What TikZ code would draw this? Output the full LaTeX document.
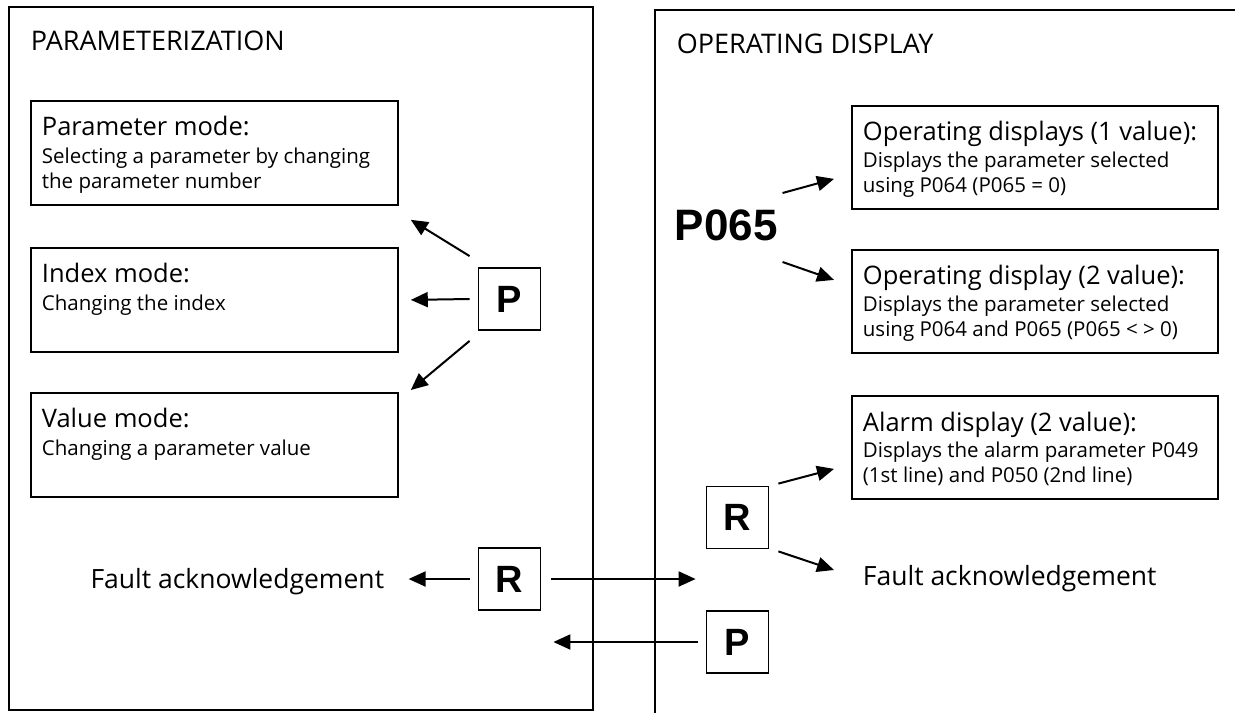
\documentclass[tikz,border=0pt]{standalone}
\usepackage{fontspec}
\setmainfont{Open Sans}
\newfontfamily\keyfont{Liberation Sans}
\usetikzlibrary{arrows.meta,calc}
\begin{document}
\begin{tikzpicture}[x=1pt,y=-1pt,line width=1.8pt,
  arr/.style={-{Triangle[length=17pt,width=15pt]},line width=2pt},
  mbox/.style={draw,rectangle,minimum width=367pt,minimum height=104pt,anchor=north west,inner sep=0pt},
  keybox/.style={draw,rectangle,minimum width=62pt,minimum height=62pt,inner sep=0pt,font=\keyfont\bfseries\fontsize{38}{40}\selectfont},
  ttl/.style={anchor=base west,inner sep=0pt,font=\fontsize{25.5}{30}\selectfont},
  subt/.style={anchor=base west,inner sep=0pt,font=\fontsize{20.5}{24}\selectfont},
  head/.style={anchor=base west,inner sep=0pt,font=\fontsize{27}{32}\selectfont},
  plain/.style={inner sep=0pt,font=\fontsize{26.5}{31}\selectfont},
]
\useasboundingbox (0,0) rectangle (1235,713);
% panels
\draw (9,7) rectangle (593,710);
\draw (1235,10) -- (655,10) -- (655,713);
\node[head] (h1) at (30,50) {PARAMETERIZATION};
\node[head] (h2) at (676,53) {OPERATING DISPLAY};
% left boxes
\node[mbox] (pm) at (30,100) {};
\node[ttl] (pmt) at ($(pm.north west)+(11,35)$) {Parameter mode:};
\node[subt] (pms1) at ($(pm.north west)+(11,63)$) {Selecting a parameter by changing};
\node[subt] (pms2) at ($(pm.north west)+(11,88)$) {the parameter number};
\node[mbox] (im) at (30,247) {};
\node[ttl] (imt) at ($(im.north west)+(11,35)$) {Index mode:};
\node[subt] (ims1) at ($(im.north west)+(11,63)$) {Changing the index};
\node[mbox] (vm) at (30,392) {};
\node[ttl] (vmt) at ($(vm.north west)+(11,35)$) {Value mode:};
\node[subt] (vms1) at ($(vm.north west)+(11,63)$) {Changing a parameter value};
% left keys
\node[keybox] (p1) at (509.5,299) {P};
\node[keybox] (r1) at (509.5,579) {R};
\node[plain,anchor=base east] (fa1) at (385,588) {Fault acknowledgement};
\draw[arr] ($(p1.north west)+(-8,-11)$) -- ($(pm.south east)+(12,14)$);
\draw[arr] ($(p1.west)+(-8,0)$) -- ($(im.east)+(12,0)$);
\draw[arr] ($(p1.south west)+(-8,10)$) -- ($(vm.north east)+(12,-2)$);
\draw[arr] ($(r1.west)+(-8,0)$) -- ($(r1.west)+(-69,0)$);
% right boxes
\node[mbox,minimum width=366pt,minimum height=103pt] (od1) at (851,105) {};
\node[ttl] (od1t) at ($(od1.north west)+(11,35)$) {Operating displays (1 value):};
\node[subt] (od1s1) at ($(od1.north west)+(11,62)$) {Displays the parameter selected};
\node[subt] (od1s2) at ($(od1.north west)+(11,87)$) {using P064 (P065 = 0)};
\node[mbox,minimum width=366pt,minimum height=103pt] (od2) at (851,249) {};
\node[ttl] (od2t) at ($(od2.north west)+(11,35)$) {Operating display (2 value):};
\node[subt] (od2s1) at ($(od2.north west)+(11,62)$) {Displays the parameter selected};
\node[subt] (od2s2) at ($(od2.north west)+(11,87)$) {using P064 and P065 (P065 < > 0)};
\node[mbox,minimum width=366pt,minimum height=103pt] (al) at (851,395) {};
\node[ttl] (alt) at ($(al.north west)+(11,36)$) {Alarm display (2 value):};
\node[subt] (als1) at ($(al.north west)+(11,62)$) {Displays the alarm parameter P049};
\node[subt] (als2) at ($(al.north west)+(11,87)$) {(1st line) and P050 (2nd line)};
\node[inner sep=0pt,anchor=west,font=\keyfont\bfseries\fontsize{44}{46}\selectfont] (p065) at (674,225) {P065};
\draw[arr] ($(p065.east)+(4,-32)$) -- ($(od1.west)+(-17,21.5)$);
\draw[arr] ($(p065.east)+(4,37)$) -- ($(od2.west)+(-17,-21.5)$);
\node[keybox] (r2) at (737.5,517.5) {R};
\node[keybox] (p2) at (737.5,642) {P};
\node[plain,anchor=base west] (fa2) at (862,585) {Fault acknowledgement};
\draw[arr] ($(r2.north east)+(9,-2)$) -- ($(al.west)+(-17,21.5)$);
\draw[arr] ($(r2.south east)+(9,2)$) -- ($(fa2.base west)+(-28,-15)$);
% crossing arrows
\draw[arr] ($(r1.east)+(10,0)$) -- ($(r1.east -| r2.west)+(-10,0)$);
\draw[arr] ($(p2.west)+(-8,0)$) -- ($(r1.east |- p2.west)+(12,0)$);
\end{tikzpicture}
\end{document}
